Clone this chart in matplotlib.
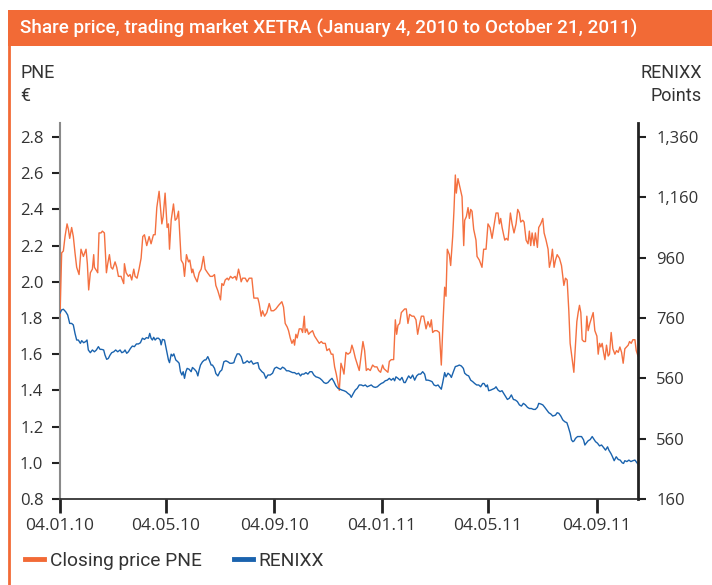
import matplotlib
matplotlib.use("Agg")
import matplotlib.pyplot as plt
from matplotlib.lines import Line2D
from matplotlib.patches import Rectangle
import pandas as pd

START = pd.Timestamp("2010-01-04")
END = pd.Timestamp("2011-10-21")

# days since 4 Jan 2010, PNE closing price (EUR)
pne_days = [0, 1.9, 3.8, 5.7, 8, 9.5, 11, 13.2, 15.1, 17, 18.9, 21.6, 23.8, 26.5, 29.5, 31, 32.5, 34.4, 36.7, 38.2, 39, 41.6, 42.7, 44.2, 46.5, 48, 50.3, 52.6, 54.1, 56, 57.9, 59.7, 62.4, 64.3, 66.2, 69.2, 72.2, 73, 74.9, 77.5, 79.4, 81.3, 83.6, 85.1, 87.3, 89.6, 91.9, 93.8, 95.7, 98.3, 101, 103.2, 105.9,
            107.8, 109.7, 112.3, 115.4, 116.9, 119.1, 121.4, 122.9, 124.1, 126, 128.6, 130.5, 132.4, 134.3, 137.3, 139.6, 141.1, 143.3, 145.6, 147.1, 149.4, 150.5, 152.4, 155.4, 157.7, 160, 162.6, 164.5, 167.2, 170.2, 172.8, 175.1, 176.6, 178.9, 181.9, 183.4, 185.3, 187.2, 189.5, 191, 193.2, 195.5, 198.5, 200, 202.3, 204.2, 205.3, 206.9, 209.9, 212.1, 214.4, 217.4, 219.7,
            221.2, 224.2, 225.7, 228, 229.5, 231.8, 234.4, 237.1, 239.3, 242, 244.6, 247.7, 251.4, 253.3, 255.2, 257.5, 259, 260.9, 262.8, 264.7, 265.8, 267.3, 268.8, 271.1, 273.4, 274.9, 276.8, 277.9, 279.8, 281.7, 283.6, 286.2, 288.5, 291.1, 293.8, 296.1, 298, 300.6, 302.5, 305.1, 307.4, 309.3, 311.2, 313.1, 315, 316.5, 318.4, 320.3, 321.8, 324, 326.3, 329, 330.8, 332.7,
            334.6, 336.5, 339.1, 341.4, 343.3, 345.2, 347.1, 349, 351.6, 354.3, 356.5, 359.2, 361.1, 363.3, 365.6, 367.1, 369.4, 371.6, 373.2, 375.4, 378.1, 380, 381.5, 383, 384.9, 386.8, 388.7, 390.6, 392.4, 394.3, 396.2, 398.9, 401.1, 403.4, 405.3, 407.2, 409.5, 412.1, 414.8, 417, 419.3, 420.8, 422.3, 424.6, 427.2, 429.9, 432.1, 434, 435.9, 437.4, 438.9, 441.2, 442.7, 445, 446.5,
            448, 449.1, 451, 453.7, 455.6, 457.5, 458.6, 460.5, 462.4, 463.9, 465.4, 466.9, 468.8, 471.4, 472.6, 475.2, 478.2, 480.1, 482.8, 485, 487.3, 489.6, 491.9, 494.1, 496.4, 497.9, 499.4, 501, 504, 505.8, 507.7, 510.4, 512.3, 514.5, 516.8, 518.7, 520.6, 522.1, 524.4, 525.9, 528.2, 530.4, 531.9, 533.4, 535, 537.2, 538.7, 541, 542.5, 544.8, 547.1, 548.6, 550.8, 553.1, 554.6, 556.5, 558, 559.9,
            561.5, 563.4, 566, 568.3, 569.8, 571, 572.8, 574.7, 576.6, 578.1, 580.4, 582.3, 584.2, 585.7, 587.2, 588.7, 590.2, 591.7, 593.6, 595.5, 597, 598.5, 600.4, 602.3, 604.2, 606.1, 608.4, 609.9, 611.4, 612.9, 614.4, 616, 617.5, 619.3, 621.2, 622.7, 624.6, 626.5, 628.8, 630.7, 632.6, 634.5, 636.4, 638.2, 640.1, 642, 643.9, 645.4, 647.3, 649.2, 651.5, 653, 655]
pne_vals = [1.81, 2.16, 2.17, 2.25, 2.32, 2.29, 2.24, 2.30, 2.25, 2.16, 2.08, 2.04, 2.18, 2.14, 2.18, 2.10, 1.955, 2.05, 2.07, 2.15, 2.08, 2.06, 2.05, 2.27, 2.27, 2.28, 2.27, 2.05, 2.10, 2.15, 2.08, 2.07, 2.11, 2.08, 2.03, 2.03, 1.99, 2.10, 2.05, 2.03, 2.04, 2.01, 2.07, 2.03, 2.02, 2.07, 2.13, 2.25, 2.26, 2.20, 2.25, 2.21, 2.26,
            2.26, 2.41, 2.50, 2.32, 2.36, 2.49, 2.30, 2.32, 2.18, 2.34, 2.43, 2.34, 2.35, 2.39, 2.12, 2.10, 2.03, 2.15, 2.11, 2.12, 2.05, 2.07, 2.03, 2.00, 2.05, 2.07, 2.14, 2.07, 2.05, 2.03, 2.03, 2.04, 1.98, 1.95, 1.90, 1.99, 1.98, 2.01, 2.02, 2.01, 2.03, 2.02, 2.03, 2.01, 2.07, 2.03, 2.00, 2.02, 2.02, 2.00, 2.02, 2.02, 1.91,
            1.91, 1.91, 1.88, 1.81, 1.84, 1.81, 1.83, 1.88, 1.84, 1.84, 1.85, 1.87, 1.89, 1.86, 1.77, 1.75, 1.73, 1.69, 1.66, 1.68, 1.65, 1.71, 1.69, 1.74, 1.74, 1.72, 1.81, 1.72, 1.74, 1.71, 1.72, 1.73, 1.70, 1.68, 1.66, 1.67, 1.66, 1.66, 1.62, 1.63, 1.60, 1.60, 1.53, 1.49, 1.44, 1.40, 1.55, 1.52, 1.49, 1.61, 1.60, 1.61, 1.65, 1.62,
            1.58, 1.55, 1.51, 1.60, 1.67, 1.62, 1.51, 1.52, 1.51, 1.54, 1.53, 1.53, 1.51, 1.50, 1.54, 1.52, 1.51, 1.50, 1.56, 1.57, 1.57, 1.79, 1.71, 1.76, 1.77, 1.83, 1.84, 1.85, 1.85, 1.77, 1.82, 1.81, 1.81, 1.79, 1.71, 1.76, 1.81, 1.81, 1.74, 1.78, 1.75, 1.79, 1.72, 1.73, 1.73, 1.72, 1.54, 1.77, 1.97, 1.92, 2.18, 2.15, 2.09, 2.25, 2.40,
            2.59, 2.49, 2.57, 2.51, 2.47, 2.20, 2.34, 2.36, 2.41, 2.35, 2.40, 2.39, 2.29, 2.23, 2.14, 2.12, 2.08, 2.18, 2.18, 2.32, 2.30, 2.24, 2.31, 2.38, 2.38, 2.32, 2.35, 2.30, 2.23, 2.24, 2.23, 2.38, 2.32, 2.27, 2.32, 2.40, 2.38, 2.33, 2.34, 2.33, 2.23, 2.21, 2.28, 2.20, 2.27, 2.20, 2.27, 2.19, 2.30, 2.32, 2.35, 2.27, 2.23, 2.18, 2.08, 2.12, 2.18, 2.08,
            2.12, 2.15, 2.13, 2.09, 2.03, 1.98, 2.02, 2.01, 1.84, 1.66, 1.57, 1.50, 1.66, 1.78, 1.83, 1.87, 1.83, 1.68, 1.67, 1.67, 1.81, 1.73, 1.77, 1.80, 1.83, 1.73, 1.70, 1.60, 1.66, 1.64, 1.66, 1.61, 1.57, 1.65, 1.59, 1.60, 1.72, 1.63, 1.60, 1.62, 1.61, 1.64, 1.61, 1.55, 1.63, 1.64, 1.65, 1.67, 1.66, 1.68, 1.68, 1.62, 1.59]

# days since 4 Jan 2010, RENIXX index (points)
renixx_days = [0, 1.9, 3.8, 6.4, 8.7, 11, 13.2, 15.1, 17, 18.9, 20.8, 23.1, 24.6, 26.8, 29.1, 30.6, 32.1, 34.4, 36.7, 39, 41.2, 43.5, 45.4, 47.3, 49.5, 51, 52.9, 54.8, 56.7, 58.6, 60.9, 63.1, 65.4, 68.1, 70, 72.2, 73.7, 75.6, 77.5, 79.8, 82, 84.3, 86.6, 88.9, 91.1, 93.4, 95.7, 97.9, 100.2, 101.7, 103.2, 104.7, 106.2,
               107.8, 109.7, 111.6, 113.5, 114.6, 116.1, 118.4, 119.9, 121.4, 122.9, 124.1, 126, 127.5, 129, 131.2, 133.5, 135, 136.5, 138.1, 139.6, 141.1, 142.6, 144.1, 146.4, 148.6, 150.1, 152.4, 154.7, 156.2, 157.7, 159.2, 161.5, 163.8, 165.3, 167.5, 169.1, 171.3, 172.8, 175.1, 176.6, 178.9, 181.2, 183.4, 185.7, 188, 190.2, 192.5, 194.8, 197, 198.5, 200.8, 203.1, 205.3, 207.6, 209.9, 212.1, 214.4, 216.7, 219,
               221.2, 224.2, 225.7, 228.8, 231, 233.3, 235.6, 238.2, 240.9, 243.1, 245.4, 247.7, 249.9, 252.2, 254.5, 256.7, 259, 261.3, 263.5, 265.8, 268.1, 270.4, 272.6, 274.1, 276.4, 278.7, 280.9, 283.2, 285.5, 287.7, 290, 292.3, 294.5, 296.8, 299.1, 301.4, 303.6, 305.9, 308.2, 310.4, 312.7, 315, 317.2, 319.5, 321.8, 324, 326.3, 328.6, 330.1, 332.4,
               334.6, 336.9, 339.1, 341.4, 343.7, 346, 348.2, 350.5, 352.7, 355, 357.3, 359.6, 361.8, 364.1, 366.4, 368.6, 370.9, 373.2, 375.4, 377.7, 379.2, 380.7, 383, 385.3, 387.5, 389.8, 391.3, 393.6, 395.1, 397.4, 399.6, 401.9, 404.2, 406.4, 408.7, 411, 413.2, 414.8, 417, 419.3, 421.6, 423.8, 426.1, 428.4, 429.9, 432.1, 433.7, 435.9, 437.4, 439.7, 442, 443.5, 445.8,
               448, 450.3, 452.5, 454.8, 457.1, 458.6, 460.9, 463.1, 465.4, 467.7, 469.9, 472.2, 474.5, 476.7, 479, 480.5, 482.8, 484.3, 485.8, 488.1, 490.3, 492.6, 494.1, 496.4, 498.7, 500.9, 503.2, 504.7, 507, 509.2, 511.5, 513.8, 516.1, 518.3, 520.6, 522.9, 525.1, 527.4, 529.7, 531.9, 534.2, 536.5, 538.7, 541, 542.5, 544.8, 547.1, 549.3, 551.6, 553.9, 556.1, 558.4,
               561.5, 563.4, 565.3, 567.5, 569.8, 572.1, 574.4, 575.9, 578.1, 579.6, 581.2, 582.7, 584.2, 586.5, 588.7, 591, 593.3, 594.8, 596.3, 598.5, 600.8, 603.1, 605.4, 606.9, 609.1, 611.4, 613.7, 615.9, 618.2, 620.5, 622, 624.3, 625.8, 628, 630.3, 632.6, 634.8, 637.1, 638.6, 640.1, 642.4, 644.7, 646.9, 649.2, 651.5, 653.8, 655]
renixx_pts = [776, 787, 789, 781, 770, 742, 742, 737, 709, 687, 687, 676, 685, 678, 682, 687, 654, 645, 654, 648, 654, 665, 656, 656, 654, 637, 623, 626, 637, 645, 648, 654, 648, 654, 645, 648, 654, 643, 648, 659, 667, 665, 674, 674, 678, 693, 689, 695, 693, 709, 693, 687, 696,
              687, 693, 693, 687, 671, 689, 687, 665, 643, 621, 612, 640, 634, 641, 621, 615, 610, 582, 571, 582, 560, 582, 593, 590, 582, 596, 590, 582, 568, 588, 604, 615, 621, 621, 632, 621, 604, 604, 593, 576, 568, 582, 588, 615, 618, 615, 610, 610, 612, 626, 641, 641, 632, 610, 612, 618, 612, 618, 607,
              610, 612, 593, 582, 577, 560, 571, 571, 577, 593, 597, 593, 590, 597, 593, 585, 585, 582, 579, 579, 574, 577, 568, 574, 574, 579, 574, 582, 582, 571, 565, 563, 560, 554, 546, 543, 546, 554, 560, 549, 535, 527, 524, 521, 519, 516, 510, 505, 497, 510,
              521, 527, 538, 538, 535, 538, 532, 535, 538, 532, 530, 532, 538, 543, 546, 552, 554, 560, 554, 560, 552, 565, 560, 554, 563, 546, 546, 560, 568, 560, 571, 554, 568, 574, 574, 582, 574, 554, 554, 552, 549, 538, 535, 538, 532, 524, 546, 579, 565, 577, 571, 563, 582,
              599, 601, 604, 601, 593, 577, 571, 568, 554, 549, 543, 538, 538, 532, 543, 543, 532, 538, 519, 521, 524, 527, 532, 521, 516, 519, 508, 501, 490, 494, 505, 490, 488, 483, 472, 468, 477, 472, 464, 460, 460, 457, 457, 464, 477, 475, 472, 464, 455, 446, 442, 435,
              438, 446, 444, 435, 422, 416, 413, 400, 378, 356, 350, 353, 361, 367, 367, 367, 356, 339, 345, 353, 357, 367, 357, 350, 345, 336, 339, 331, 322, 333, 322, 311, 302, 287, 300, 291, 289, 280, 278, 287, 284, 289, 284, 287, 289, 280, 276]

x_tick_dates = ["2010-01-04", "2010-05-04", "2010-09-04", "2011-01-04", "2011-05-04", "2011-09-04"]
x_tick_labels = ["04.01.10", "04.05.10", "04.09.10", "04.01.11", "04.05.11", "04.09.11"]
left_ticks = [0.8, 1.0, 1.2, 1.4, 1.6, 1.8, 2.0, 2.2, 2.4, 2.6, 2.8]
left_tick_labels = ["0.8", "1.0", "1.2", "1.4", "1.6", "1.8", "2.0", "2.2", "2.4", "2.6", "2.8"]
right_ticks = [160, 360, 560, 760, 960, 1160, 1360]
right_tick_labels = ["160", "560", "560", "760", "960", "1,160", "1,360"]

title = "Share price, trading market XETRA (January 4, 2010 to October 21, 2011)"
legend_labels = ["Closing price PNE", "RENIXX"]

ORANGE = "#F26A36"
LINE_OR = "#F47040"
BLUE = "#1A63AE"
TXT = "#333333"
NARROW = ["Roboto", "DejaVu Sans"]
TICKF = ["Open Sans", "DejaVu Sans"]

W, H = 712, 585
fig = plt.figure(figsize=(W / 100, H / 100), dpi=100)

def fx(px):
    return px / W

def fy(py):
    return 1 - py / H

# title bar and left border
fig.patches.append(Rectangle((fx(8), fy(46)), 1 - fx(8), fy(10) - fy(46), transform=fig.transFigure,
                             facecolor=ORANGE, edgecolor="none", zorder=0))
fig.add_artist(Line2D([fx(9), fx(9)], [fy(46), 0], transform=fig.transFigure, color=ORANGE, lw=2))
fig.text(fx(20), fy(28), title, color="white", fontsize=13.6, family=NARROW, weight="medium",
         va="center", ha="left")

fig.text(fx(20), fy(73), "PNE", color=TXT, fontsize=13, family=NARROW, va="center", ha="left")
fig.text(fx(20), fy(96), "€", color=TXT, fontsize=13, family=NARROW, va="center", ha="left")
fig.text(fx(702), fy(73), "RENIXX", color=TXT, fontsize=13, family=NARROW, va="center", ha="right")
fig.text(fx(702), fy(96), "Points", color=TXT, fontsize=13, family=NARROW, va="center", ha="right")

ax = fig.add_axes([fx(60), fy(499), fx(638) - fx(60), fy(123) - fy(499)])
ax2 = ax.twinx()

pne_dates = START + pd.to_timedelta(pne_days, unit="D")
ren_dates = START + pd.to_timedelta(renixx_days, unit="D")

ax.plot(pne_dates, pne_vals, color=LINE_OR, lw=1.0, zorder=3)
ax2.plot(ren_dates, renixx_pts, color=BLUE, lw=1.0, zorder=2)

ymax_left = 0.8 + (499 - 123) / 181.0
ax.set_ylim(0.8, ymax_left)
ax2.set_ylim(160, 160 + (ymax_left - 0.8) * 600)
ax.set_xlim(START, END)

ax.set_yticks(left_ticks)
ax.set_yticklabels(left_tick_labels)
ax2.set_yticks(right_ticks)
ax2.set_yticklabels(right_tick_labels)
ax.set_xticks(pd.to_datetime(x_tick_dates))
ax.set_xticklabels(x_tick_labels)

for a in (ax, ax2):
    a.patch.set_visible(False)
    for s in ("top", "left", "right", "bottom"):
        a.spines[s].set_visible(False)

ax.spines["left"].set_visible(True)
ax.spines["left"].set_color("#8a8a8a")
ax.spines["left"].set_linewidth(1.5)
ax.spines["bottom"].set_visible(True)
ax.spines["bottom"].set_color("#222222")
ax.spines["bottom"].set_linewidth(1.2)
ax2.spines["right"].set_visible(True)
ax2.spines["right"].set_color("#222222")
ax2.spines["right"].set_linewidth(2)

ax.tick_params(axis="y", direction="out", length=6, width=1.5, color="#222222", pad=6,
               labelsize=12, labelcolor=TXT)
ax.tick_params(axis="x", direction="out", length=10, width=2, color="#222222", pad=4,
               labelsize=12.5, labelcolor=TXT)
ax2.tick_params(axis="y", direction="out", length=6, width=1.5, color="#222222", pad=7,
                labelsize=12, labelcolor=TXT)
for lab in ax.get_xticklabels() + ax.get_yticklabels() + ax2.get_yticklabels():
    lab.set_family(TICKF)

handles = [Line2D([], [], color=ORANGE, lw=3.5), Line2D([], [], color=BLUE, lw=3.5)]
leg = fig.legend(handles, legend_labels, loc="center left", bbox_to_anchor=(fx(25), fy(561)),
                 ncol=2, frameon=False, handlelength=1.0, handletextpad=0.28, columnspacing=1.7,
                 borderpad=0, borderaxespad=0,
                 prop={"family": NARROW, "size": 13.8})
for t in leg.get_texts():
    t.set_color(TXT)

fig.savefig("out.png", dpi=100)
